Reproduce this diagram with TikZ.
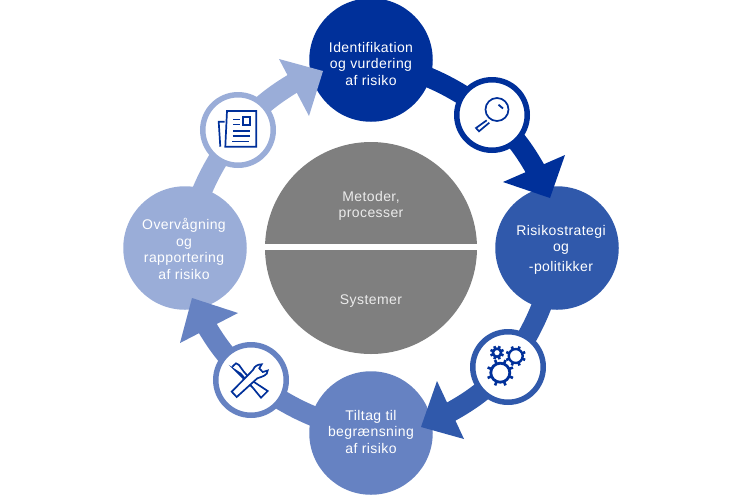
\documentclass[tikz,border=0pt]{standalone}
\usepackage{fontspec}
\setmainfont[LetterSpace=3]{Liberation Sans}
\definecolor{cA}{HTML}{00309A}
\definecolor{cB}{HTML}{3059AB}
\definecolor{cC}{HTML}{6682C2}
\definecolor{cD}{HTML}{9AADD8}
\definecolor{cG}{HTML}{7F7F7F}
\pgfdeclarelayer{bg}
\pgfsetlayers{bg,main}
\tikzset{
  big/.style={circle,fill=#1,minimum size=123.5pt,inner sep=0pt},
  words/.style={text=white,align=center,inner sep=0pt,font=\fontsize{14}{16.5}\selectfont},
  ring/.style={circle,draw=#1,line width=5.5pt,fill=white,minimum size=70.5pt,inner sep=0pt},
  shaft/.style={draw=#1,line width=20pt},
  head/.style={fill=#1},
  ico/.style={draw=cA,line width=1.7pt,line join=miter},
  hubtext/.style={text=white!92!black,align=center,inner sep=0pt,font=\fontsize{14}{16.5}\selectfont}
}
\newcommand{\gearicon}[4]{%
  \draw[cA,line width=#3pt] (#1) circle (#2);
  \foreach \a in {0,45,...,315}{\draw[cA,line width=2.6pt] (#1) ++(\a+22.5:#2) -- ++(\a+22.5:#4);}
}
\begin{document}
\begin{tikzpicture}[x=1pt,y=-1pt]
\useasboundingbox (0,0) rectangle (744,496);
% hub
\fill[cG] (371,248) circle (106);
\fill[white] (263,243.5) rectangle (479,250);
\node[hubtext] (hubA) at (371,206) {Metoder,\\processer};
\node[hubtext] (hubB) at (371,301) {Systemer};
% main circles
\node[big=cA] (top) at (371,60) {};
\node[big=cB] (right) at (557,248) {};
\node[big=cC] (bottom) at (371,433) {};
\node[big=cD] (left) at (185,248) {};
% small rings
\node[ring=cA] (mag) at (492,115) {};
\node[ring=cB] (gear) at (508,367) {};
\node[ring=cC] (tools) at (251,380) {};
\node[ring=cD] (doc) at (238,130) {};
% arrow head bases
\coordinate (b1) at (538,174);
\coordinate (b2) at (445,415);
\coordinate (b3) at (204,322);
\coordinate (b4) at (297,81);
\begin{pgfonlayer}{bg}
\draw[shaft=cA] (top.center) to[bend left=12] (mag.center) to[bend left=9] (b1);
\draw[shaft=cB] (right.center) to[bend left=12] (gear.center) to[bend left=9] (b2);
\draw[shaft=cC] (bottom.center) to[bend left=12] (tools.center) to[bend left=9] (b3);
\draw[shaft=cD] (left.center) to[bend left=12] (doc.center) to[bend left=9] (b4);
\end{pgfonlayer}
% heads
\fill[head=cA] (550,198) -- (565,155) -- (503,182) -- cycle;
\fill[head=cB] (421,427) -- (464,439) -- (437,381) -- cycle;
\fill[head=cC] (192,298) -- (180,343) -- (238,313) -- cycle;
\fill[head=cD] (323,71) -- (279,59) -- (309,116) -- cycle;
% texts
\node[words] (tA) at (371,63.5) {Identifikation\\og vurdering\\af risiko};
\node[words] (tB) at (561,249.5) {Risikostrategi\\og\\[3pt]-politikker};
\node[words] (tC) at (371,431.5) {Tiltag til\\begrænsning\\af risiko};
\node[words] (tD) at (184,249) {Overvågning\\og\\rapportering\\af risiko};
% magnifier
\draw[ico] (497,109.5) circle (11.5);
\draw[ico] (486.7,120.3) -- (476,128) -- (479,131.3) -- (489.3,122.7);
\draw[cA,line width=1.8pt] (498.5,104.7) -- (503,108.5);
% gears
\gearicon{497,352.7}{4}{2.4}{3}
\gearicon{515.7,356}{7}{2.4}{3.2}
\gearicon{500.3,372.7}{9.5}{2.8}{4.2}
% tools
\draw[ico] (251,380) -- (267.7,391) -- (261,397.7) -- (253.3,388.3);
\draw[ico] (232.3,366.7) -- (236,363.3) -- (239,365) -- (243.3,371) -- (251,380) (253.3,388.3) -- (240.7,373.7) -- (235,370) -- cycle;
\draw[ico,fill=white] (231.7,391.7) -- (253,370) to[out=70,in=180] (261.7,364.3) -- (259.3,368.3) -- (262.7,372) -- (267.7,370.5) to[out=-90,in=20] (257.3,378.3) -- (236.7,397) -- cycle;
% document
\draw[ico] (227,111) -- (256.3,111) -- (256.3,146.7) -- (225.3,146.7) -- cycle;
\draw[ico] (224.7,121.7) -- (218.7,121.7) -- (220.3,146.7);
\draw[ico] (242.7,117.3) rectangle (249.7,125);
\foreach \y/\xa/\xb in {119.3/233/240,124.3/233/240,131/233/250,136/232.5/250,141.7/232/249}{\draw[cA,line width=1.5pt] (\xa,\y) -- (\xb,\y);}
\end{tikzpicture}
\end{document}
